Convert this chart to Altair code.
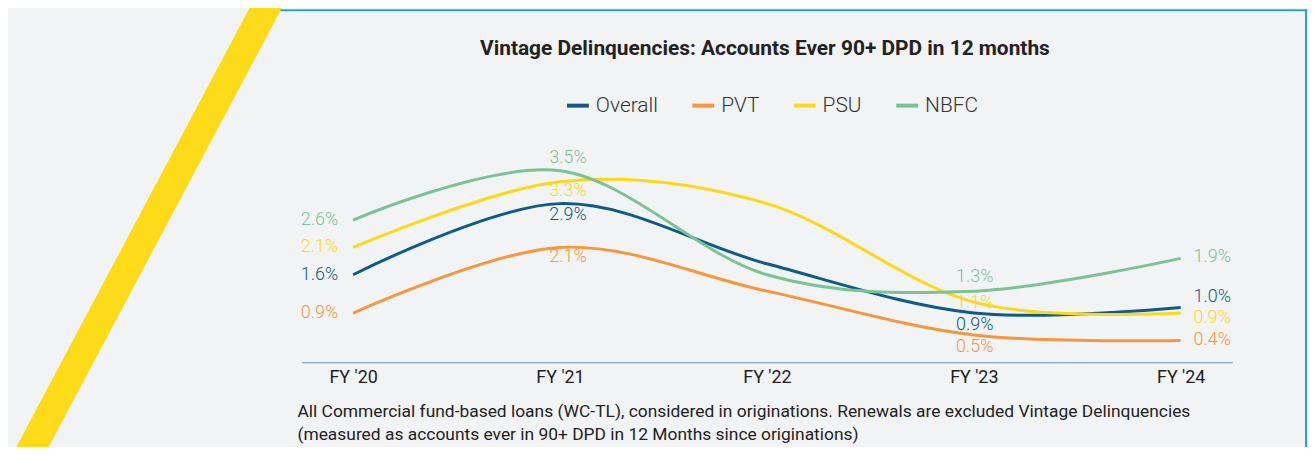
import altair as alt
import pandas as pd

# ---------------- data ----------------
fiscal_years = ["FY '20", "FY '21", "FY '22", "FY '23", "FY '24"]
series_names = ["Overall", "PVT", "PSU", "NBFC"]
overall = [1.6, 2.9, 1.8, 0.9, 1.0]
pvt = [0.9, 2.1, 1.3, 0.5, 0.4]
psu = [2.1, 3.3, 2.9, 1.1, 0.9]
nbfc = [2.6, 3.5, 1.6, 1.3, 1.9]
labelled_years = ["FY '20", "FY '21", "FY '23", "FY '24"]

title_text = "Vintage Delinquencies: Accounts Ever 90+ DPD in 12 months"
note_lines = [
    "All Commercial fund-based loans (WC-TL), considered in originations. Renewals are excluded Vintage Delinquencies",
    "(measured as accounts ever in 90+ DPD in 12 Months since originations)",
]

# ---------------- styles ----------------
colors = ["#0e5a88", "#f7963a", "#fed817", "#7cc393"]
BG = "#f2f3f5"
FONT = "Roboto"

# label placement per (series, year): (align, dx, dy)
label_style = {
    "FY '20": {s: ("right", -15, 0) for s in series_names},
    "FY '21": {"NBFC": ("center", 8, -13), "PSU": ("center", 8, 9),
               "Overall": ("center", 8, 11), "PVT": ("center", 8, 10)},
    "FY '23": {"NBFC": ("center", 1, -14), "PSU": ("center", 1, 1),
               "Overall": ("center", 1, 12), "PVT": ("center", 1, 12)},
    "FY '24": {"NBFC": ("left", 13, -1), "Overall": ("left", 13, -11),
               "PSU": ("left", 13, 5), "PVT": ("left", 13, 0)},
}

values_by_series = dict(zip(series_names, [overall, pvt, psu, nbfc]))
rows = []
for s in series_names:
    for fy, v in zip(fiscal_years, values_by_series[s]):
        rows.append({"series": s, "fy": fy, "value": v, "label": f"{v:.1f}%"})
df = pd.DataFrame(rows)

x_enc = alt.X(
    "fy:N", sort=fiscal_years,
    scale=alt.Scale(type="point", padding=0.25),
    axis=alt.Axis(title=None, labelAngle=0, ticks=False, grid=False,
                  domainColor="#6f95b5", domainWidth=1,
                  labelFont=FONT, labelFontSize=18, labelColor="#222222",
                  labelPadding=6),
)
y_enc = alt.Y("value:Q", scale=alt.Scale(domain=[0, 4]), axis=None)
color_scale = alt.Scale(domain=series_names, range=colors)

lines = alt.Chart(df).mark_line(interpolate="cardinal", strokeWidth=3).encode(
    x=x_enc, y=y_enc,
    color=alt.Color("series:N", scale=color_scale, sort=series_names,
                    legend=alt.Legend(
                        orient="none", legendX=265, legendY=-51,
                        direction="horizontal", title=None,
                        labelFont=FONT, labelFontSize=21, labelFontWeight=300,
                        labelColor="#333333", symbolType="stroke",
                        symbolStrokeWidth=4, symbolSize=484,
                        columnPadding=26, labelOffset=5)),
    detail="series:N",
)

# label layers grouped by placement
slots = {}
for fy in labelled_years:
    for s in series_names:
        slots.setdefault(label_style[fy][s], []).append((s, fy))

label_layers = []
for (align, dx, dy), members in slots.items():
    sub = df[[(r.series, r.fy) in members for r in df.itertuples()]]
    label_layers.append(
        alt.Chart(sub).mark_text(align=align, baseline="middle", dx=dx, dy=dy,
                                 font=FONT, fontSize=18, fontWeight=300).encode(
            x=alt.X("fy:N", sort=fiscal_years), y="value:Q", text="label:N",
            color=alt.Color("series:N", scale=color_scale, legend=None))
    )

one = alt.Data(values=[{"k": 1}])

# decorative yellow stripe and blue frame (pixel positions relative to plot origin)
stripe = alt.Chart(one).mark_rule(color="#fddb18", strokeWidth=28.7, strokeCap="butt").encode(
    x=alt.value(-27), y=alt.value(-153), x2=alt.value(-282), y2=alt.value(327))
frame_top = alt.Chart(one).mark_rule(color="#1ba6dc", strokeWidth=2).encode(
    x=alt.value(-21), x2=alt.value(1011), y=alt.value(-134), y2=alt.value(-134))
frame_right = alt.Chart(one).mark_rule(color="#1ba6dc", strokeWidth=2).encode(
    x=alt.value(1010), x2=alt.value(1010), y=alt.value(-135), y2=alt.value(320))

title = alt.Chart(one).mark_text(text=title_text, font=FONT, fontSize=21, fontWeight="bold",
                                 color="#222222", align="center", baseline="middle").encode(
    x=alt.value(466), y=alt.value(-95))

note = alt.Chart(one).mark_text(text=note_lines, font=FONT, fontSize=17.5, color="#222222",
                                align="left", baseline="middle", lineHeight=23).encode(
    x=alt.value(-4), y=alt.value(270))

chart = alt.layer(stripe, frame_top, frame_right, lines, *label_layers, title, note).properties(
    width=936, height=220,
    background=BG,
    padding={"left": 295, "top": 135, "right": 75, "bottom": 84},
    autosize=alt.AutoSizeParams(type="none"),
).configure_view(stroke=None)

chart.save("out.html", embed_options={"renderer": "svg", "actions": False})
